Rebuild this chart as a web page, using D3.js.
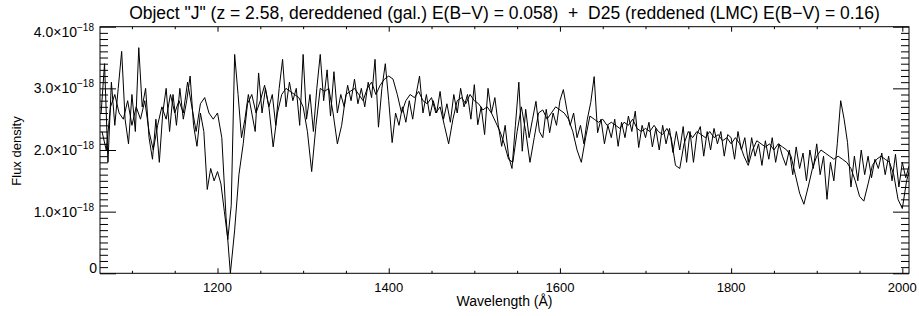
<!DOCTYPE html>
<html>
<head>
<meta charset="utf-8">
<script src="https://cdn.jsdelivr.net/npm/d3@7"></script>
<style>
body { margin: 0; background: #fff; }
svg { display: block; font-family: "Liberation Sans", Arial, Helvetica, sans-serif; }
text { white-space: pre; }
</style>
</head>
<body>
<svg id="chart" width="919" height="316"></svg>
<script>
// flux in units of 1e-18
const fluxUnit = 1e-18;

// Object "J" spectrum, sampled every 4 A from 1064 A
const objStart = 1064, objStep = 4;
const objFlux = [
  2.6, 3.4, 1.8, 3.1, 2.4, 3.0, 3.6, 2.5, 2.1, 2.9, 2.3, 3.66, 2.7, 3.0, 2.2, 1.85,
  2.5, 1.8, 2.6, 3.0, 2.3, 2.9, 2.4, 3.0, 2.5, 2.8, 3.2, 2.4, 2.06, 2.6, 2.3, 1.36,
  1.7, 1.5, 1.65, 1.45, 1.0, 0.55, 1.1, 3.55, 2.9, 2.2, 2.5, 2.9, 2.6, 2.3, 3.25, 2.6,
  3.0, 2.7, 2.9, 2.4, 3.0, 3.47, 2.7, 3.1, 2.8, 3.0, 2.4, 3.55, 2.5, 2.9, 2.3, 3.0,
  3.55, 2.8, 3.3, 2.55, 3.27, 2.6, 2.9, 2.7, 3.05, 2.8, 3.15, 2.75, 3.0, 2.7, 3.1, 2.85,
  3.47, 2.37, 3.0, 3.4, 2.8, 2.12, 2.6, 2.4, 2.7, 2.45, 2.8, 2.5, 2.9, 3.2, 2.6, 2.9,
  2.55, 2.8, 2.6, 2.95, 2.5, 2.75, 2.45, 2.9, 2.6, 3.0, 2.7, 2.9, 2.5, 3.06, 2.41, 2.7,
  2.25, 3.0, 2.6, 2.85, 2.4, 2.06, 2.4, 1.9, 1.7, 2.4, 3.1, 1.98, 2.66, 2.2, 2.5, 2.79,
  2.3, 2.2, 2.66, 2.28, 2.6, 2.4, 2.8, 2.98, 2.66, 2.4, 2.6, 2.2, 2.4, 2.1, 2.5, 2.77,
  3.19, 2.28, 2.5, 2.1, 2.4, 2.2, 2.5, 2.06, 2.45, 2.2, 2.55, 2.3, 2.63, 2.04, 2.4, 2.2,
  2.45, 2.05, 2.35, 2.0, 2.4, 2.1, 2.35, 1.96, 2.3, 2.0, 2.38, 1.8, 2.3, 1.8, 2.25, 2.38,
  1.9, 2.3, 2.0, 2.35, 2.1, 2.3, 1.9, 2.25, 2.2, 1.85, 2.3, 2.0, 2.2, 1.8, 2.2, 1.9,
  2.1, 1.75, 2.15, 1.85, 2.2, 1.8, 2.1, 1.9, 1.75, 2.0, 1.6, 2.05, 1.7, 1.95, 1.5, 2.0,
  1.7, 2.1, 1.6, 1.9, 1.2, 1.8, 1.5, 2.1, 2.8, 2.5, 2.12, 1.4, 1.9, 1.5, 2.0, 1.6,
  1.9, 1.55, 1.85, 1.7, 1.95, 1.6, 1.9, 1.5, 1.93, 1.4, 1.8, 1.55, 1.75
];

// D25 template, sampled every 5 A from 1065 A
const d25Start = 1065, d25Step = 5;
const d25Flux = [
  2.3, 2.0, 2.7, 2.9, 2.6, 2.5, 2.8, 2.4, 2.7, 2.5, 2.8, 2.3, 2.0, 2.4, 2.7, 2.5,
  2.9, 2.6, 2.8, 2.6, 3.1, 2.7, 2.3, 2.75, 2.85, 2.6, 2.5, 2.6, 2.2, 0.9, 0.0, 0.7,
  1.6, 2.1, 2.75, 2.9, 2.6, 2.8, 3.05, 2.7, 2.05, 2.6, 2.9, 3.0, 2.95, 2.9, 2.85, 2.7,
  2.3, 1.65, 2.4, 3.0, 2.95, 3.0, 2.6, 2.1, 2.4, 2.9, 2.95, 3.0, 2.9, 2.8, 3.0, 3.1,
  2.9, 3.05, 3.15, 3.2, 3.15, 2.9, 2.6, 2.8, 2.9, 2.85, 2.95, 2.8, 2.75, 2.85, 2.6, 2.7,
  2.4, 2.1, 2.5, 2.8, 2.85, 2.75, 2.9, 2.8, 2.75, 2.65, 2.7, 2.6, 2.45, 2.3, 2.1, 1.85,
  1.8, 2.3, 2.7, 2.3, 1.8, 2.2, 2.6, 2.65, 2.5, 2.6, 2.7, 2.65, 2.6, 2.5, 2.3, 2.0,
  1.8, 2.2, 2.55, 2.5, 2.45, 2.5, 2.4, 2.45, 2.4, 2.35, 2.45, 2.4, 2.5, 2.35, 2.3, 2.35,
  2.3, 2.4, 2.3, 2.25, 2.35, 2.2, 1.75, 1.7, 2.1, 2.3, 2.2, 2.3, 2.25, 2.2, 2.3, 2.2,
  2.25, 2.15, 2.2, 2.1, 2.2, 2.1, 1.9, 1.75, 2.0, 2.15, 2.1, 2.05, 2.1, 2.0, 2.1, 2.05,
  2.0, 1.9, 1.6, 1.3, 1.12, 1.4, 1.7, 1.9, 2.0, 1.95, 1.9, 1.85, 1.9, 1.85, 1.8, 1.7,
  1.5, 1.25, 1.17, 1.45, 1.75, 1.85, 1.9, 1.85, 1.8, 1.6, 1.2, 1.05, 1.5, 1.75
];

const xMajor = [1200, 1400, 1600, 1800, 2000];
const xMinor = [1100, 1150, 1250, 1300, 1350, 1450, 1500, 1550, 1650, 1700, 1750, 1850, 1900, 1950];
const yMajor = [0, 1, 2, 3, 4];
const yMajorLabels = ["0", "1.0", "2.0", "3.0", "4.0"];
const yExponent = "\u221218";

const titleText = 'Object "J" (z = 2.58, dereddened (gal.) E(B\u2212V) = 0.058)  +  D25 (reddened (LMC) E(B\u2212V) = 0.16)';

const objData = objFlux.map((f, i) => ({ w: objStart + i * objStep, f: f }));
const d25Data = d25Flux.map((f, i) => ({ w: d25Start + i * d25Step, f: f }));

const margin = { left: 100, right: 909, top: 26.7, bottom: 273.3 };

const svg = d3.select("#chart");

const x = d3.scaleLinear().domain([1062.7, 2007.8]).range([margin.left, margin.right]);
const y = d3.scaleLinear().domain([0, 4]).range([margin.bottom, margin.top]);

// minor y ticks every 0.1
const yMinor = d3.range(1, 40).map(d => d / 10).filter(d => Math.abs(d - Math.round(d)) > 1e-6);

svg.append("defs").append("clipPath").attr("id", "plotclip")
  .append("rect")
  .attr("x", margin.left).attr("y", margin.top)
  .attr("width", margin.right - margin.left).attr("height", margin.bottom - margin.top);

// spectra
const line = d3.line()
  .x(d => x(d.w))
  .y(d => y(d.f));

const plot = svg.append("g").attr("clip-path", "url(#plotclip)");

plot.append("path")
  .datum(d25Data)
  .attr("fill", "none")
  .attr("stroke", "#000")
  .attr("stroke-width", 1)
  .attr("d", line);

plot.append("path")
  .datum(objData)
  .attr("fill", "none")
  .attr("stroke", "#000")
  .attr("stroke-width", 1)
  .attr("d", line);

// axes : ticks pointing inward
function styleAxis(g) {
  g.select(".domain").remove();
  g.selectAll(".tick line").attr("stroke", "#000").attr("stroke-width", 1);
  g.selectAll(".tick text").remove();
}

svg.append("g").attr("transform", "translate(0," + margin.bottom + ")")
  .call(d3.axisBottom(x).tickValues(xMajor).tickSize(-5).tickFormat(""))
  .call(styleAxis);
svg.append("g").attr("transform", "translate(0," + margin.bottom + ")")
  .call(d3.axisBottom(x).tickValues(xMinor).tickSize(-2.5).tickFormat(""))
  .call(styleAxis);
svg.append("g").attr("transform", "translate(0," + margin.top + ")")
  .call(d3.axisTop(x).tickValues(xMajor).tickSize(-5).tickFormat(""))
  .call(styleAxis);
svg.append("g").attr("transform", "translate(0," + margin.top + ")")
  .call(d3.axisTop(x).tickValues(xMinor).tickSize(-2.5).tickFormat(""))
  .call(styleAxis);

svg.append("g").attr("transform", "translate(" + margin.left + ",0)")
  .call(d3.axisLeft(y).tickValues(yMajor).tickSize(-16).tickFormat(""))
  .call(styleAxis);
svg.append("g").attr("transform", "translate(" + margin.left + ",0)")
  .call(d3.axisLeft(y).tickValues(yMinor).tickSize(-8).tickFormat(""))
  .call(styleAxis);
svg.append("g").attr("transform", "translate(" + margin.right + ",0)")
  .call(d3.axisRight(y).tickValues(yMajor).tickSize(-16).tickFormat(""))
  .call(styleAxis);
svg.append("g").attr("transform", "translate(" + margin.right + ",0)")
  .call(d3.axisRight(y).tickValues(yMinor).tickSize(-8).tickFormat(""))
  .call(styleAxis);

// frame
svg.append("rect")
  .attr("x", margin.left).attr("y", margin.top)
  .attr("width", margin.right - margin.left).attr("height", margin.bottom - margin.top)
  .attr("fill", "none")
  .attr("stroke", "#000")
  .attr("stroke-width", 1);

// x tick labels
svg.append("g").selectAll("text")
  .data(xMajor)
  .enter().append("text")
  .attr("x", d => x(d))
  .attr("y", 292)
  .attr("text-anchor", "middle")
  .attr("font-size", 13)
  .text(d => d);

// y tick labels with exponent
const ylab = svg.append("g").selectAll("text")
  .data(yMajor)
  .enter().append("text")
  .attr("x", d => d === 0 ? 97 : 94)
  .attr("y", function(d) {
    if (d === 0) return y(d) - 0.5;
    if (d === 4) return y(d) + 10;
    return y(d) + 5;
  })
  .attr("text-anchor", "end")
  .attr("font-size", 14);

ylab.each(function(d, i) {
  const t = d3.select(this);
  if (d === 0) {
    t.text(yMajorLabels[i]);
    return;
  }
  t.append("tspan").text(yMajorLabels[i] + "\u00d710");
  t.append("tspan").attr("dy", -6).attr("font-size", 10).text(yExponent);
});

// titre
svg.append("text")
  .attr("x", (margin.left + margin.right) / 2)
  .attr("y", 19)
  .attr("text-anchor", "middle")
  .attr("font-size", 17.5)
  .text(titleText);

// axis titles
svg.append("text")
  .attr("x", (margin.left + margin.right) / 2)
  .attr("y", 306)
  .attr("text-anchor", "middle")
  .attr("font-size", 14)
  .text("Wavelength (\u00c5)");

svg.append("text")
  .attr("transform", "translate(21,151) rotate(-90)")
  .attr("text-anchor", "middle")
  .attr("font-size", 13)
  .text("Flux density");
</script>
</body>
</html>
